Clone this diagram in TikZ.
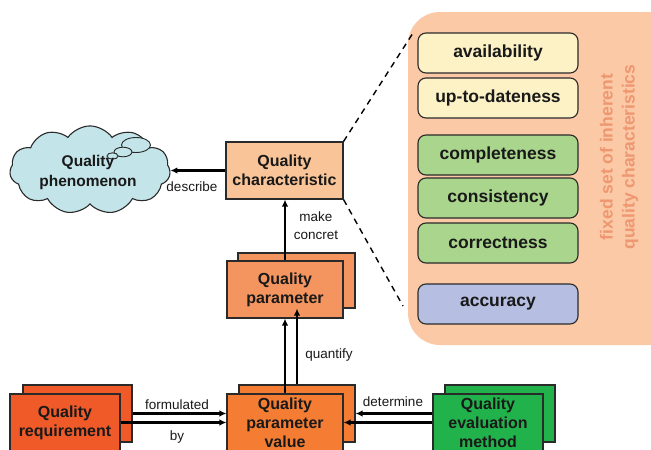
\documentclass[tikz,border=0pt]{standalone}
\usepackage{fontspec}
\setmainfont{Liberation Sans}
\usetikzlibrary{shapes.symbols,arrows.meta,calc}
\definecolor{cloudc}{HTML}{C3E5EA}
\definecolor{qcc}{HTML}{F9C497}
\definecolor{parc}{HTML}{F4955F}
\definecolor{valc}{HTML}{F47D33}
\definecolor{reqc}{HTML}{EF5A28}
\definecolor{evalc}{HTML}{22B24C}
\definecolor{panelc}{HTML}{FBC9A6}
\definecolor{creamc}{HTML}{FCF2C6}
\definecolor{greenc}{HTML}{AAD58D}
\definecolor{lavc}{HTML}{B6BEE2}
\definecolor{vtextc}{HTML}{EE9770}
\definecolor{edgec}{HTML}{2A2A2A}
\begin{document}
\begin{tikzpicture}[x=1pt,y=-1pt,
  box/.style={draw=edgec, line width=1.1pt, align=center, inner sep=0pt,
    font=\bfseries\fontsize{16}{19}\selectfont, text=black!90},
  charbox/.style={draw=edgec, line width=1.1pt, rounded corners=8pt, inner sep=0pt,
    minimum width=160pt, minimum height=40pt,
    font=\bfseries\fontsize{17.5}{20}\selectfont, text=black!90},
  arr/.style={line width=2.4pt, draw=black, -{Latex[length=7pt,width=6.5pt]}},
  lbl/.style={font=\fontsize{13.5}{16}\selectfont, text=black!90, inner sep=0pt},
  dashline/.style={draw=black, line width=1.4pt, dash pattern=on 6pt off 5pt}]
\useasboundingbox (0,0) rectangle (651,450);
\begin{scope}
\clip (0,0) rectangle (651,450);
% panel
\fill[panelc, rounded corners=32pt] (408,12) rectangle (680,345);
\node[charbox, fill=creamc] (avail) at (498,53) {availability};
\node[charbox, fill=creamc] (uptodate) at (498,98) {up-to-dateness};
\node[charbox, fill=greenc] (complete) at (498,155) {completeness};
\node[charbox, fill=greenc] (consist) at (498,198) {consistency};
\node[charbox, fill=greenc] (correct) at (498,243) {correctness};
\node[charbox, fill=lavc] (accuracy) at (498,304) {accuracy};
\node[rotate=90, text=vtextc, align=center, font=\bfseries\fontsize{17.5}{22}\selectfont] (fixedset) at (619,157) {fixed set of inherent\\quality characteristics};

% cloud
\node[cloud, cloud puffs=11, cloud puff arc=110, cloud ignores aspect, draw=edgec, line width=1.1pt, fill=cloudc,
  inner sep=0pt] (cloud) at (90,170) {\rule{111pt}{0pt}\rule{0pt}{48pt}};
\draw[edgec, line width=0.9pt, fill=cloudc] (136,145) ellipse (14.5 and 7.5);
\draw[edgec, line width=0.9pt, fill=cloudc] (123,152) ellipse (9 and 4.8);
\draw[edgec, line width=0.9pt, fill=cloudc] (112.5,156) ellipse (5.5 and 3.2);
\node[align=center, font=\bfseries\fontsize{15.5}{20}\selectfont, text=black!90] (cloudtext) at (88,172) {Quality\\phenomenon};

% quality characteristic
\node[box, fill=qcc, minimum width=117pt, minimum height=57pt] (qc) at (284.5,170.5) {Quality\\characteristic};

% quality parameter
\node[box, fill=parc, minimum width=117pt, minimum height=55pt] (parback) at (296.5,280.5) {};
\node[box, fill=parc, minimum width=116pt, minimum height=57pt] (parfront) at (285,289.5) {Quality\\parameter};

% value
\node[box, fill=valc, minimum width=116pt, minimum height=57pt] (valback) at (297,413.5) {};
\node[box, fill=valc, minimum width=116pt, minimum height=57pt] (valfront) at (285,422.5) {Quality\\parameter\\value};

% requirement
\node[box, fill=reqc, minimum width=109pt, minimum height=57pt] (reqback) at (77.5,413.5) {};
\node[box, fill=reqc, minimum width=110pt, minimum height=57pt] (reqfront) at (65,422.5) {Quality\\requirement};

% evaluation
\node[box, fill=evalc, minimum width=110pt, minimum height=57pt] (evalback) at (500,413.5) {};
\node[box, fill=evalc, minimum width=110pt, minimum height=57pt] (evalfront) at (488,422.5) {Quality\\evaluation\\method};

% arrows
\draw[arr] (qc.west) -- (qc.west -| cloud.east);
\draw[arr] (parfront.north) -- (parfront.north |- qc.south);
\draw[arr] (valfront.north) -- (parfront.south);
\draw[arr] (valback.north) -- (valback.north |- parback.south);
\draw[arr] (reqback.east) -- (reqback.east -| valfront.west);
\draw[arr] (reqfront.east) -- (valfront.west);
\draw[arr] (evalfront.west |- valback.east) -- (valback.east);
\draw[arr] (evalfront.west) -- (valfront.east);

% labels
\node[lbl] (ldescribe) at (192,187) {describe};
\node[lbl, align=center, font=\fontsize{13.5}{18}\selectfont] (lmake) at (316,226) {make\\concret};
\node[lbl] (lquantify) at (329,355) {quantify};
\node[lbl] (lformulated) at (177,405) {formulated};
\node[lbl] (lby) at (177,437) {by};
\node[lbl] (ldetermine) at (393,402) {determine};

% dashed lines
\coordinate (dtop) at (413,33);
\coordinate (dbot) at (403,306);
\draw[dashline] (qc.north east) -- (dtop);
\draw[dashline] (qc.south east) -- (dbot);
\end{scope}
\end{tikzpicture}
\end{document}
